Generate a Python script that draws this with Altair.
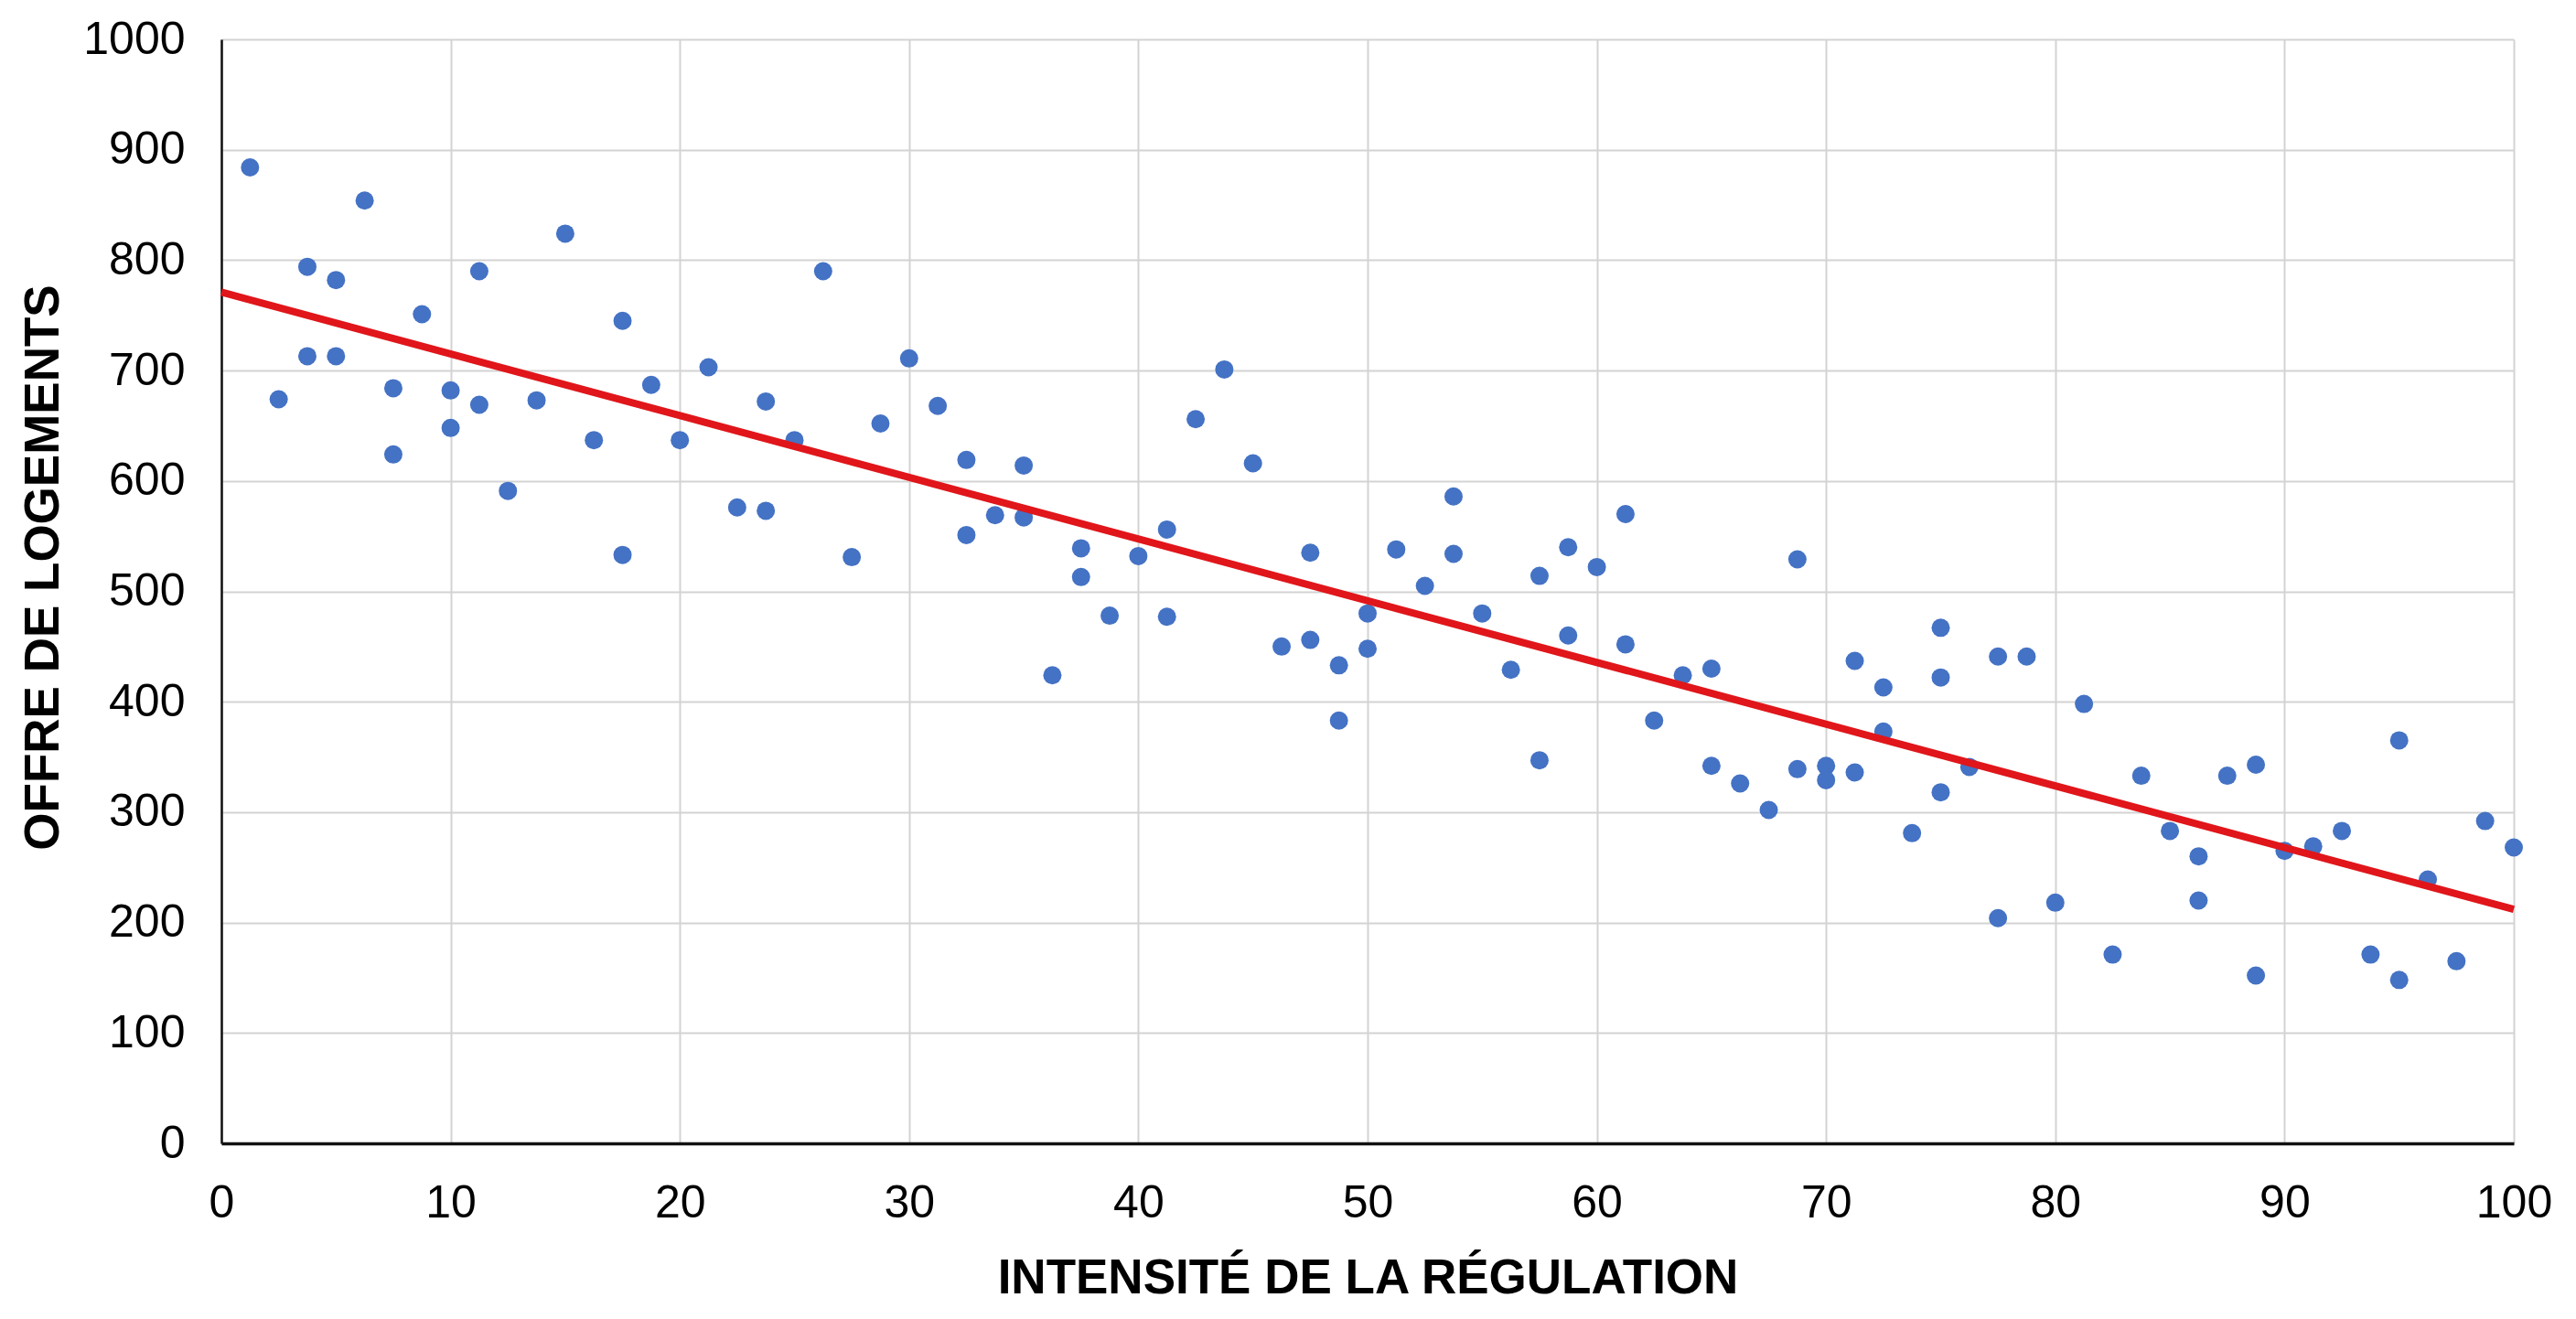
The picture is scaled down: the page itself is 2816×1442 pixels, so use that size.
import altair as alt
import pandas as pd

# Scatter points
x_vals = [1.25, 2.5, 3.75, 3.75, 5.0, 5.0, 6.25, 7.5, 7.5, 8.75, 10.0, 10.0, 11.25, 11.25,
          12.5, 13.75, 15.0, 16.25, 17.5, 17.5, 18.75, 20.0, 21.25, 22.5, 23.75, 23.75,
          25.0, 26.25, 27.5, 28.75, 30.0, 31.25, 32.5, 32.5, 33.75, 35.0, 35.0, 36.25,
          37.5, 37.5, 38.75, 40.0, 41.25, 41.25, 42.5, 43.75, 45.0, 46.25, 47.5, 47.5,
          48.75, 48.75, 50.0, 50.0, 51.25, 52.5, 53.75, 53.75, 55.0, 56.25, 57.5, 57.5,
          58.75, 58.75, 60.0, 61.25, 61.25, 62.5, 63.75, 65.0, 65.0, 66.25, 67.5, 68.75,
          68.75, 70.0, 70.0, 71.25, 71.25, 72.5, 72.5, 73.75, 75.0, 75.0, 75.0, 76.25,
          77.5, 77.5, 78.75, 80.0, 81.25, 82.5, 83.75, 85.0, 86.25, 86.25, 87.5, 88.75,
          88.75, 90.0, 91.25, 92.5, 93.75, 95.0, 95.0, 96.25, 97.5, 98.75, 100.0]
y_vals = [884, 674, 794, 713, 782, 713, 854, 684, 624, 751, 682, 648, 790, 669,
          591, 673, 824, 637, 745, 533, 687, 637, 703, 576, 672, 573,
          637, 790, 531, 652, 711, 668, 619, 551, 569, 614, 567, 424,
          539, 513, 478, 532, 556, 477, 656, 701, 616, 450, 535, 456,
          433, 383, 480, 448, 538, 505, 586, 534, 480, 429, 514, 347,
          540, 460, 522, 570, 452, 383, 424, 430, 342, 326, 302, 529,
          339, 342, 329, 437, 336, 413, 373, 281, 467, 422, 318, 341,
          441, 204, 441, 218, 398, 171, 333, 283, 260, 220, 333, 343,
          152, 265, 269, 283, 171, 365, 148, 239, 165, 292, 268]

# Trend line end points
line_x = [0, 100]
line_y = [771, 212]

x_ticks = [0, 10, 20, 30, 40, 50, 60, 70, 80, 90, 100]
y_ticks = [0, 100, 200, 300, 400, 500, 600, 700, 800, 900, 1000]

pts = pd.DataFrame({"x": x_vals, "y": y_vals})
trend = pd.DataFrame({"x": line_x, "y": line_y})

FONT = "Liberation Sans"

x_scale = alt.Scale(domain=[0, 100], nice=False, zero=False)
y_scale = alt.Scale(domain=[0, 1000], nice=False)

x_axis = alt.Axis(
    values=x_ticks, format="d", title="INTENSITÉ DE LA RÉGULATION",
    titleFont=FONT, titleFontSize=53, titleFontWeight="bold", titleColor="#000000",
    titleBaseline="alphabetic", titleY=163, titleAlign="center",
    labelFont=FONT, labelFontSize=50, labelColor="#000000", labelPadding=40,
    ticks=False, domainColor="#111111", domainWidth=3.5,
    grid=True, gridColor="#d3d3d3", gridWidth=2, labelFlush=False,
)
y_axis = alt.Axis(
    values=y_ticks, format="d", title="OFFRE DE LOGEMENTS",
    titleFont=FONT, titleFontSize=53, titleFontWeight="bold", titleColor="#000000",
    titleAngle=270, titleBaseline="alphabetic", titleAlign="center",
    titleX=-179, titleY=577,
    labelFont=FONT, labelFontSize=50, labelColor="#000000", labelPadding=40,
    ticks=False, domainColor="#111111", domainWidth=2.5,
    grid=True, gridColor="#d3d3d3", gridWidth=2, labelFlush=False,
)

points = alt.Chart(pts).mark_circle(size=400, color="#4472c4", opacity=1).encode(
    x=alt.X("x:Q", scale=x_scale, axis=x_axis),
    y=alt.Y("y:Q", scale=y_scale, axis=y_axis),
)

line = alt.Chart(trend).mark_line(color="#e0161b", strokeWidth=8).encode(
    x=alt.X("x:Q", scale=x_scale),
    y=alt.Y("y:Q", scale=y_scale),
)

chart = alt.layer(points, line).properties(
    width=2506, height=1207,
    autosize=alt.AutoSizeParams(type="none"),
    padding={"left": 234, "top": 35, "right": 55, "bottom": 184},
    background="#ffffff",
).configure_view(strokeWidth=0)

chart.save("out.html", embed_options={"renderer": "svg", "actions": False})
